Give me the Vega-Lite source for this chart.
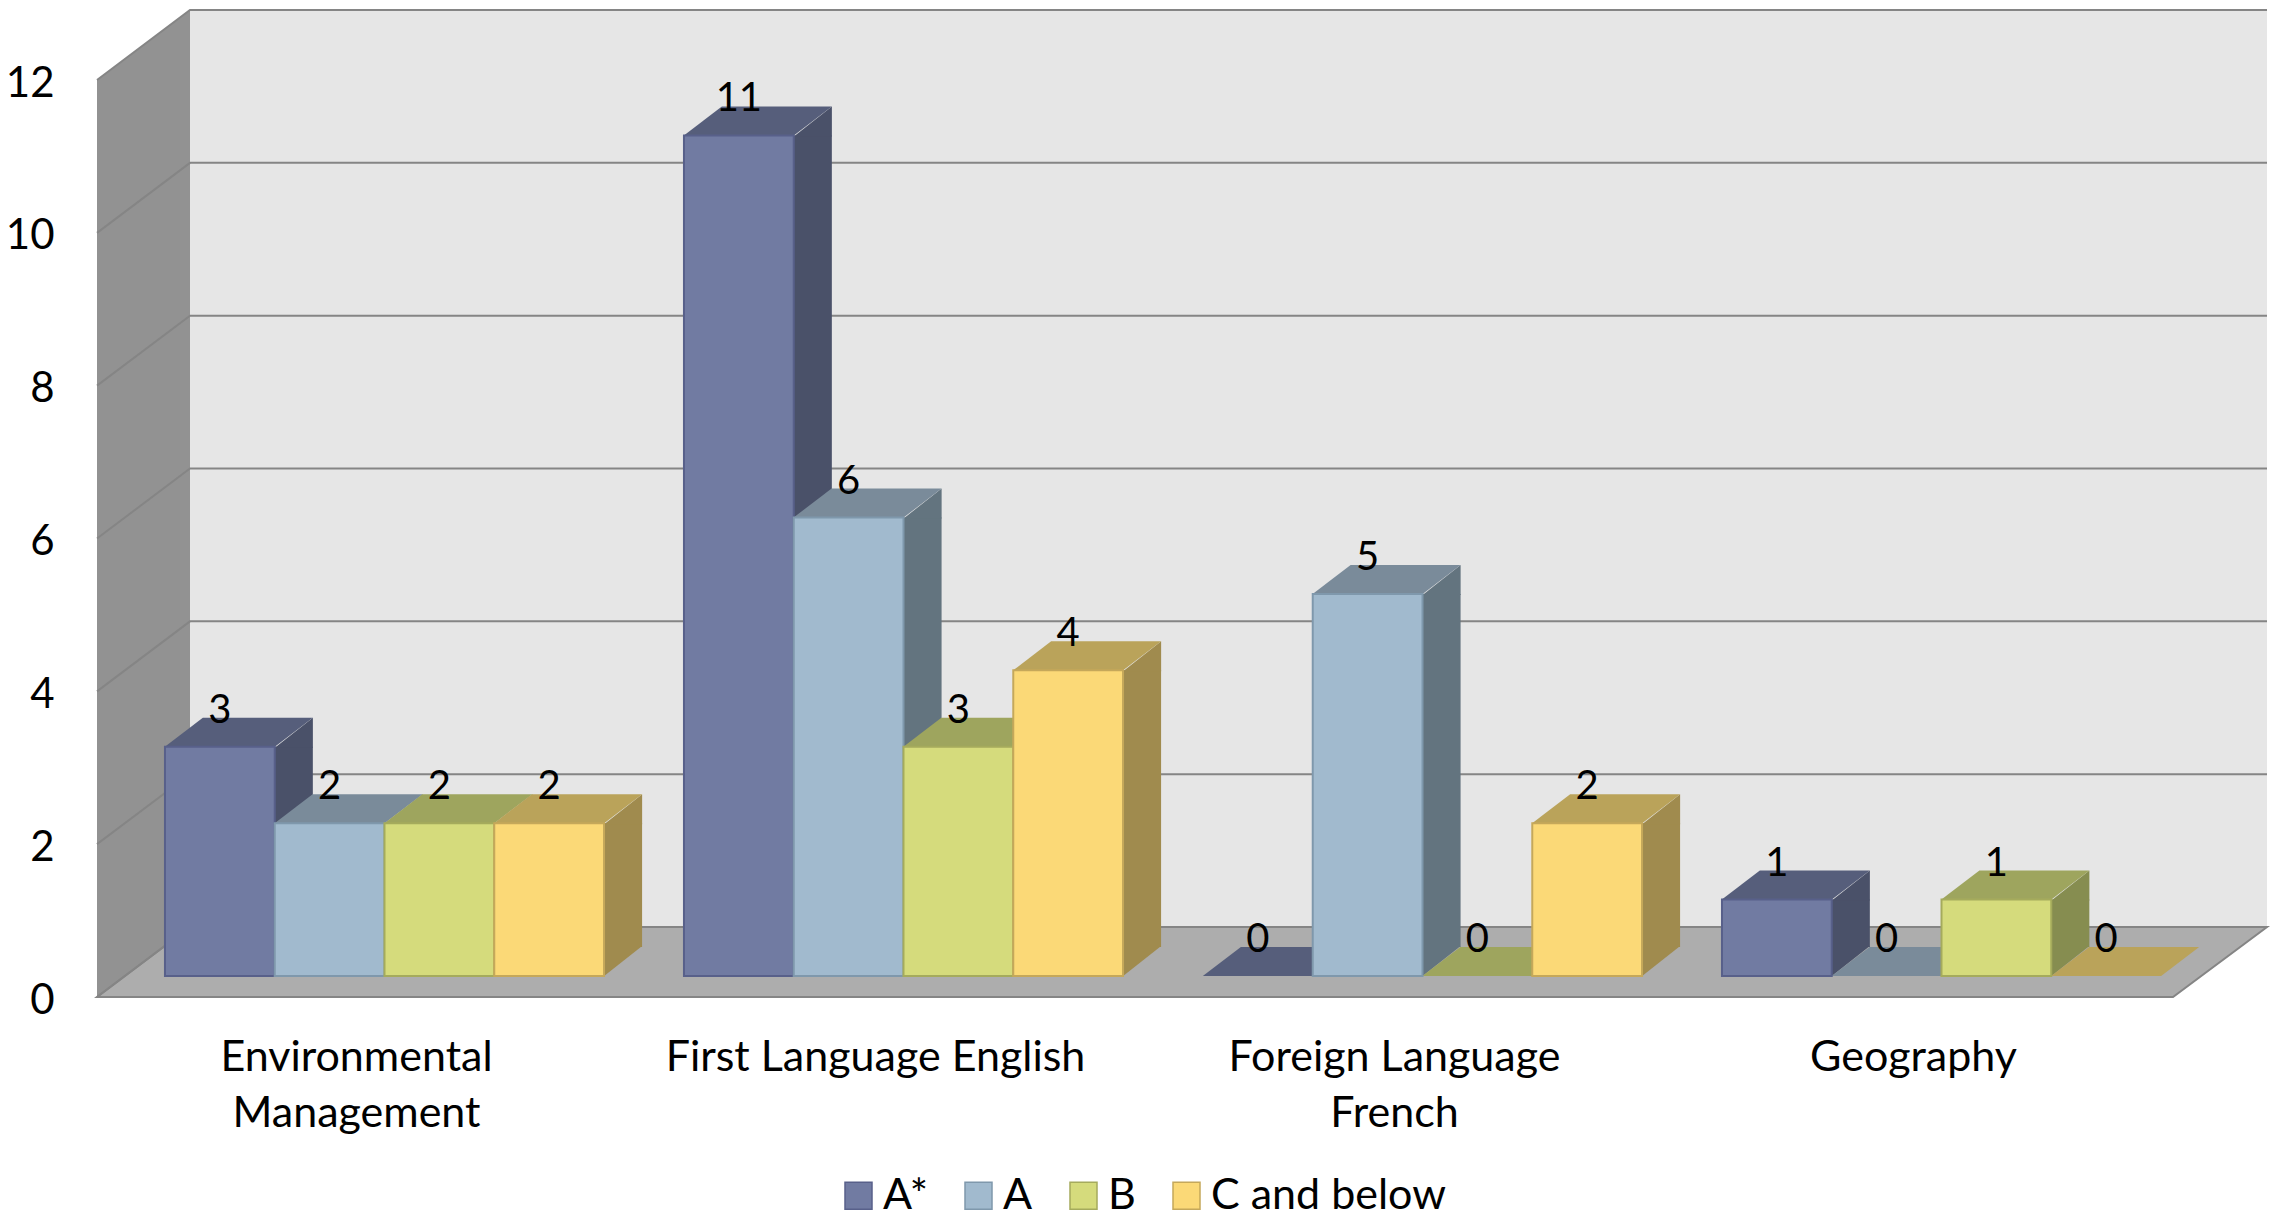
{
"$schema":"https://vega.github.io/schema/vega-lite/v6.json",
"width":2076,"height":917,
"autosize":"none",
"padding":{"left":125,"top":80,"right":78,"bottom":221},
"background":"white",
"config":{"view":{"stroke":null},"font":"Lato"},
"data":{"values":[
{"subject":"Environmental Management","grade":"A*","value":3},
{"subject":"Environmental Management","grade":"A","value":2},
{"subject":"Environmental Management","grade":"B","value":2},
{"subject":"Environmental Management","grade":"C and below","value":2},
{"subject":"First Language English","grade":"A*","value":11},
{"subject":"First Language English","grade":"A","value":6},
{"subject":"First Language English","grade":"B","value":3},
{"subject":"First Language English","grade":"C and below","value":4},
{"subject":"Foreign Language French","grade":"A*","value":0},
{"subject":"Foreign Language French","grade":"A","value":5},
{"subject":"Foreign Language French","grade":"B","value":0},
{"subject":"Foreign Language French","grade":"C and below","value":2},
{"subject":"Geography","grade":"A*","value":1},
{"subject":"Geography","grade":"A","value":0},
{"subject":"Geography","grade":"B","value":1},
{"subject":"Geography","grade":"C and below","value":0}
]},
"resolve":{"scale":{"color":"independent","stroke":"independent","xOffset":"independent"}},
"layer":[
{"data":{"values":[{"tick":0}]},
 "mark":{"type":"point","filled":true,"size":4,"opacity":1,"fill":"#E6E6E6","strokeWidth":0,"shape":"M-973,-70 L1104,-70 L1104,-987 L-973,-987 Z"},
 "encoding":{"y":{"field":"tick","type":"quantitative","scale":{"domain":[0,12],"nice":false},"axis":{"title":null,"values":[0,2,4,6,8,10,12],"domain":false,"ticks":false,"grid":false,"labelFontSize":42,"labelFont":"Lato","labelColor":"#000000","labelPadding":71,"labelOffset":3,"labelFlush":false,"format":"d"}}}},
{"data":{"values":[{"tick":0}]},
 "mark":{"type":"point","filled":true,"size":4,"opacity":1,"fill":"#929292","strokeWidth":0,"shape":"M-1066,0 L-973,-70 L-973,-987 L-1066,-917 Z"},
 "encoding":{"y":{"field":"tick","type":"quantitative"}}},
{"data":{"values":[{"tick":0}]},
 "mark":{"type":"point","filled":true,"size":4,"opacity":1,"fill":"#ADADAD","stroke":"#858585","strokeWidth":2,"shape":"M-1066,0 L1010,0 L1104,-70 L-973,-70 Z"},
 "encoding":{"y":{"field":"tick","type":"quantitative"}}},
{"data":{"values":[{"tick":0},{"tick":2},{"tick":4},{"tick":6},{"tick":8},{"tick":10},{"tick":12}]},
 "mark":{"type":"point","filled":false,"size":4,"opacity":1,"stroke":"#858585","strokeWidth":2,"shape":"M-1066,0 L-973,-70 L1104,-70"},
 "encoding":{"y":{"field":"tick","type":"quantitative"}}},
{"transform":[{"filter":"datum.value>0"}],
 "mark":{"type":"rule","strokeWidth":38,"strokeCap":"butt","opacity":1,"yOffset":-21,"y2Offset":-50},
 "encoding":{
  "x":{"field":"subject","type":"nominal"},
  "xOffset":{"field":"grade","type":"nominal","scale":{"type":"band","domain":["A*","A","B","C and below"],"range":[74,513],"paddingInner":0,"paddingOuter":0}},
  "y":{"field":"value","type":"quantitative"},
  "y2":{"datum":0},
  "color":{"field":"grade","type":"nominal","legend":null,"scale":{"domain":["A*","A","B","C and below"],"range":["#4A5169","#63747F","#868D50","#A08B4E"]}}}},
{"transform":[{"filter":"datum.value>0"}],
 "mark":{"type":"point","filled":true,"size":4,"opacity":1,"strokeWidth":0,"shape":"M55,-20 L93,-50 L93,-20 Z"},
 "encoding":{
  "x":{"field":"subject","type":"nominal"},
  "xOffset":{"field":"grade","type":"nominal","scale":{"type":"band","domain":["A*","A","B","C and below"],"paddingInner":0,"paddingOuter":0}},
  "y":{"field":"value","type":"quantitative"},
  "color":{"field":"grade","type":"nominal","legend":null,"scale":{"domain":["A*","A","B","C and below"],"range":["#4A5169","#63747F","#868D50","#A08B4E"]}}}},
{"transform":[{"filter":"datum.value>0"}],
 "mark":{"type":"point","filled":true,"size":4,"opacity":1,"strokeWidth":0,"shape":"M55,-51 L93,-51 L55,-21 Z"},
 "encoding":{
  "x":{"field":"subject","type":"nominal"},
  "xOffset":{"field":"grade","type":"nominal","scale":{"type":"band","domain":["A*","A","B","C and below"],"paddingInner":0,"paddingOuter":0}},
  "y":{"datum":0},
  "color":{"field":"grade","type":"nominal","legend":null,"scale":{"domain":["A*","A","B","C and below"],"range":["#4A5169","#63747F","#868D50","#A08B4E"]}}}},
{"mark":{"type":"point","filled":true,"size":4,"opacity":1,"strokeWidth":0,"shape":"M-55,-21 L55,-21 L93,-50 L-17,-50 Z"},
 "encoding":{
  "x":{"field":"subject","type":"nominal"},
  "xOffset":{"field":"grade","type":"nominal","scale":{"type":"band","domain":["A*","A","B","C and below"],"paddingInner":0,"paddingOuter":0}},
  "y":{"field":"value","type":"quantitative"},
  "color":{"field":"grade","type":"nominal","legend":null,"scale":{"domain":["A*","A","B","C and below"],"range":["#565E7B","#7A8B9A","#9EA55E","#BAA35A"]}}}},
{"transform":[{"filter":"datum.value>0"}],
 "mark":{"type":"rect","yOffset":-21,"y2Offset":-21,"strokeWidth":2},
 "encoding":{
  "x":{"field":"subject","type":"nominal","scale":{"domain":["Environmental Management","First Language English","Foreign Language French","Geography"],"paddingInner":0.154,"paddingOuter":0.077},
   "axis":{"title":null,"domain":false,"ticks":false,"labelAngle":0,"labelAlign":"center","labelFontSize":43,"labelFont":"Lato","labelColor":"#000000","labelPadding":60,"labelLineHeight":56,"labelLimit":0,"labelBaseline":"middle","labelOffset":-28,
    "labelExpr":"datum.value=='Environmental Management'?['Environmental','Management']:datum.value=='Foreign Language French'?['Foreign Language','French']:datum.value"}},
  "xOffset":{"field":"grade","type":"nominal","scale":{"type":"band","domain":["A*","A","B","C and below"],"paddingInner":0,"paddingOuter":0}},
  "y":{"field":"value","type":"quantitative"},
  "y2":{"datum":0},
  "color":{"field":"grade","type":"nominal","scale":{"domain":["A*","A","B","C and below"],"range":["#717BA2","#A1BACE","#D5DB7C","#FBD977"]},
   "legend":{"title":null,"orient":"none","legendX":712,"legendY":1094,"direction":"horizontal","symbolType":"square","symbolSize":729,"labelFontSize":43,"labelFont":"Lato","labelColor":"#000000","labelOffset":3,"labelLimit":600,"columnPadding":29,"symbolOpacity":1}},
  "stroke":{"field":"grade","type":"nominal","scale":{"domain":["A*","A","B","C and below"],"range":["#58608A","#7F98AC","#A5AB5C","#C5A85A"]},
   "legend":{"title":null,"orient":"none","legendX":712,"legendY":1094,"direction":"horizontal","symbolType":"square","symbolSize":729,"labelFontSize":43,"labelFont":"Lato","labelColor":"#000000","labelOffset":3,"labelLimit":600,"columnPadding":29,"symbolOpacity":1}}}},
{"mark":{"type":"text","dy":-57,"fontSize":40,"font":"Lato","color":"#000000","baseline":"middle","align":"center"},
 "encoding":{
  "x":{"field":"subject","type":"nominal"},
  "xOffset":{"field":"grade","type":"nominal","scale":{"type":"band","domain":["A*","A","B","C and below"],"paddingInner":0,"paddingOuter":0}},
  "y":{"field":"value","type":"quantitative"},
  "text":{"field":"value","type":"quantitative"}}}
]}
